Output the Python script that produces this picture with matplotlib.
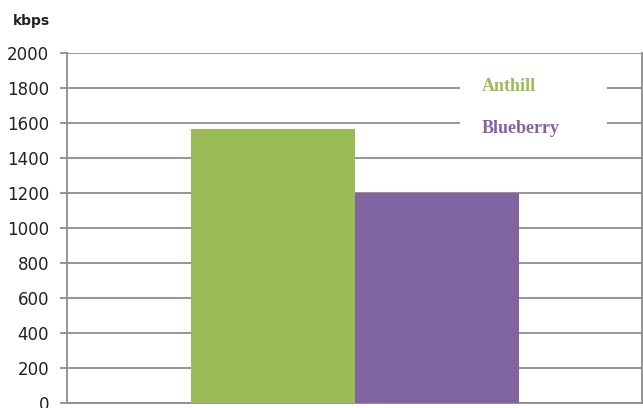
import matplotlib.pyplot as plt
from matplotlib.patches import Rectangle

series = ["Anthill", "Blueberry"]
values = [1566, 1200]
colors = ["#9BBB59", "#8064A2"]
yticks = [0, 200, 400, 600, 800, 1000, 1200, 1400, 1600, 1800, 2000]

fig = plt.figure(figsize=(6.43, 4.08), dpi=100)
ax = fig.add_axes([67 / 643, 5 / 408, 575 / 643, 350 / 408])

grid_c = "#8C8C8C"
ax.bar(range(len(values)), values, width=1.0, color=colors, zorder=3)

ax.set_xlim(-1.256, 2.25)
ax.set_ylim(0, 2000)
ax.set_yticks(yticks)
ax.set_xticks([])
ax.yaxis.grid(True, color=grid_c, linewidth=1.3, zorder=0)
ax.tick_params(axis="y", length=5, width=1.3, color=grid_c, pad=8,
               labelsize=12, labelcolor="#222222")
for s in ["left", "bottom", "right"]:
    ax.spines[s].set_color(grid_c)
    ax.spines[s].set_linewidth(1.3)
ax.spines["top"].set_visible(False)

fig.text(13 / 643, 1 - 21 / 408, "kbps", fontsize=10, fontweight="bold",
         va="center", ha="left", color="#222222")

# legend: white box with coloured labels, no markers
def px(x, y):
    return (x - 67) / 575, (403 - y) / 350

x0, y0 = px(460, 140)
x1, y1 = px(607, 70)
ax.add_patch(Rectangle((x0, y0), x1 - x0, y1 - y0, transform=ax.transAxes,
                       facecolor="white", edgecolor="none", zorder=4))
for name, c, ypix in zip(series, colors, [86, 128]):
    tx, ty = px(482, ypix)
    ax.text(tx, ty, name, transform=ax.transAxes, color=c, ha="left",
            va="center", fontsize=13, fontweight="bold",
            family="Liberation Serif", zorder=5)

fig.savefig("out.png", dpi=100)
